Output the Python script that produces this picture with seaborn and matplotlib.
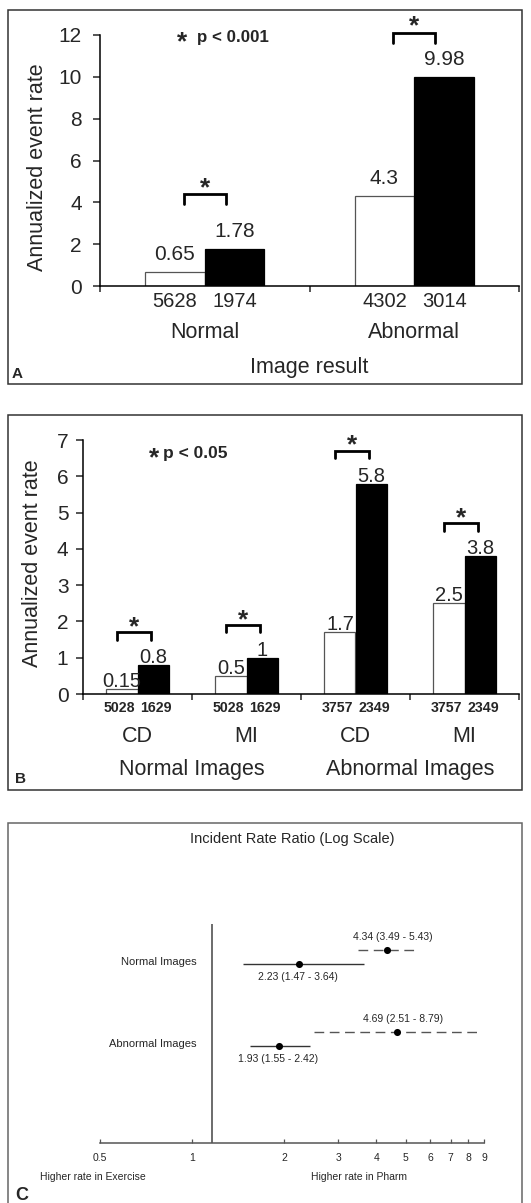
import numpy as np
import pandas as pd
import matplotlib
matplotlib.use('Agg')
import matplotlib.pyplot as plt
import seaborn as sns
from matplotlib.patches import Rectangle
from matplotlib.ticker import NullLocator, FixedLocator, FixedFormatter
import matplotlib.transforms as mtransforms

# ---------------- data ----------------
stress_levels = ['Exercise', 'Pharm']

groups_a = ['Normal', 'Abnormal']
rate_a_exercise = [0.65, 4.3]
rate_a_pharm = [1.78, 9.98]
n_a_exercise = [5628, 4302]
n_a_pharm = [1974, 3014]

cats_b = ['Normal CD', 'Normal MI', 'Abnormal CD', 'Abnormal MI']
cat_labels_b = ['CD', 'MI', 'CD', 'MI']
groups_b = ['Normal Images', 'Abnormal Images']
rate_b_exercise = [0.15, 0.5, 1.7, 2.5]
rate_b_pharm = [0.8, 1, 5.8, 3.8]
n_b_exercise = [5028, 5028, 3757, 3757]
n_b_pharm = [1629, 1629, 2349, 2349]

rows_c = ['Normal Images', 'Abnormal Images']
irr_dashed = [4.34, 4.69]
lo_dashed = [3.49, 2.51]
hi_dashed = [5.43, 8.79]
irr_solid = [2.23, 1.93]
lo_solid = [1.47, 1.55]
hi_solid = [3.64, 2.42]
xticks_c = [0.5, 1, 2, 3, 4, 5, 6, 7, 8, 9]
xticklabels_c = ['0.5', '1', '2', '3', '4', '5', '6', '7', '8', '9']
ref_line_c = 1.16

# ---------------- style ----------------
sns.set_theme(style='white')
plt.rcParams['font.family'] = ['Liberation Sans', 'DejaVu Sans']
plt.rcParams['axes.linewidth'] = 1.1
plt.rcParams['axes.edgecolor'] = 'black'

W, H = 531, 1203
fig = plt.figure(figsize=(W / 100, H / 100), dpi=100)
PT = 0.72  # points per pixel
STAR_FS = 19
STAR_C = 0.45  # asterisk ink centre above baseline, in em


def ax_rect(l, t, r, b):
    return [l / W, 1 - b / H, (r - l) / W, (b - t) / H]


def fx(x):
    return x / W


def fy(y):
    return 1 - y / H


palette = {'Exercise': 'white', 'Pharm': 'black'}


def bar_panel(ax, cats, ex, ph, n_ex, n_ph, ymax, val_off, n_off, n_size, n_weight,
              n_dx, br_heights, br_leg, br_span, star_gap, cat_labels, cat_off, fs):
    df = pd.DataFrame({
        'cat': list(cats) * 2,
        'stress': ['Exercise'] * len(cats) + ['Pharm'] * len(cats),
        'rate': list(ex) + list(ph),
    })
    sns.barplot(data=df, x='cat', y='rate', hue='stress', order=cats,
                hue_order=stress_levels, palette=palette, width=0.57, gap=0,
                saturation=1, errorbar=None, legend=False, ax=ax)
    for bar in ax.containers[0]:
        bar.set_edgecolor('#555555')
        bar.set_linewidth(0.9)
    for bar in ax.containers[1]:
        bar.set_edgecolor('black')
        bar.set_linewidth(0.9)
    ncat = len(cats)
    ax.set_xlim(-0.5, ncat - 0.5)
    ax.set_ylim(0, ymax)
    ax.set_xlabel('')
    ax.set_ylabel('')
    ax.set_xticks(np.arange(-0.5, ncat, 1.0))
    ax.set_xticklabels([''] * (ncat + 1))
    sns.despine(ax=ax)
    # value labels & n labels
    for cont, ns, dx in zip(ax.containers, (n_ex, n_ph), n_dx):
        for bar, n in zip(cont, ns):
            x = bar.get_x() + bar.get_width() / 2
            h = bar.get_height()
            ax.annotate(f"{h:g}", (x, h), xytext=(0, val_off * PT),
                        textcoords='offset points', ha='center', va='baseline',
                        fontsize=fs)
            ax.annotate(str(n), (x, 0), xytext=(dx * PT, -n_off * PT),
                        textcoords='offset points', ha='center', va='baseline',
                        fontsize=n_size, fontweight=n_weight, annotation_clip=False)
    # significance brackets
    for i, y in enumerate(br_heights):
        x0, x1 = i + br_span[0], i + br_span[1]
        ax.plot([x0, x0, x1, x1], [y - br_leg, y, y, y - br_leg], color='black',
                lw=2.0, clip_on=False, solid_joinstyle='miter')
        base = star_gap - STAR_C * STAR_FS / PT
        ax.annotate('*', ((x0 + x1) / 2, y), xytext=(0, base * PT),
                    textcoords='offset points', ha='center', va='baseline',
                    fontsize=STAR_FS, fontweight='bold', annotation_clip=False)
    # category labels
    for i, lab in enumerate(cat_labels):
        ax.annotate(lab, (i, 0), xytext=(0, -cat_off * PT), textcoords='offset points',
                    ha='center', va='baseline', fontsize=15.5, annotation_clip=False)


def fig_star(xc, yc, fs):
    fig.text(fx(xc), fy(yc + STAR_C * fs / PT), '*', ha='center', va='baseline',
             fontsize=fs, fontweight='bold')


# ---------------- Panel A ----------------
axA = fig.add_axes(ax_rect(100, 35, 519, 286))
bar_panel(axA, groups_a, rate_a_exercise, rate_a_pharm, n_a_exercise, n_a_pharm,
          12, 12, 21, 14.5, 'normal', (0, 0), [4.4, 12.1], 0.48, (-0.10, 0.10), 11,
          groups_a, 52, 15)
axA.set_yticks(np.arange(0, 13, 2))
axA.tick_params(axis='y', direction='out', length=5, width=1.1, labelsize=15, pad=8,
                left=True)
axA.tick_params(axis='x', direction='out', length=4.3, width=1.1, bottom=True)
fig.text(fx(38), fy(167.5), 'Annualized event rate', rotation=90, ha='center',
         va='center', fontsize=15.5)
fig.text(fx(309), fy(373), 'Image result', ha='center', va='baseline', fontsize=15.5)
fig_star(182, 37.5, 19)
fig.text(fx(197), fy(42), 'p < 0.001', ha='left', va='baseline', fontsize=12.2,
         fontweight='bold')
fig.text(fx(12), fy(378), 'A', ha='left', va='baseline', fontsize=11, fontweight='bold')
fig.add_artist(Rectangle((fx(8), fy(384)), (522 - 8) / W, (384 - 10) / H,
                         transform=fig.transFigure, fill=False, ec='#333333', lw=1.1))

# ---------------- Panel B ----------------
axB = fig.add_axes(ax_rect(83, 440, 519, 694))
br_b = [max(a, b) + 0.9 for a, b in zip(rate_b_exercise, rate_b_pharm)]
bar_panel(axB, cats_b, rate_b_exercise, rate_b_pharm, n_b_exercise, n_b_pharm,
          7, 2, 18, 10.2, 'bold', (-3, 3), br_b, 0.2, (-0.19, 0.12), 10,
          cat_labels_b, 48, 14.5)
axB.set_yticks(np.arange(0, 8, 1))
axB.tick_params(axis='y', direction='out', length=5, width=1.1, labelsize=15, pad=5.5,
                left=True)
axB.tick_params(axis='x', direction='out', length=4.3, width=1.1, bottom=True)
for j, g in enumerate(groups_b):
    axB.annotate(g, (2 * j + 0.5, 0), xytext=(0, -81 * PT), textcoords='offset points',
                 ha='center', va='baseline', fontsize=15.5, annotation_clip=False)
fig.text(fx(33), fy(563), 'Annualized event rate', rotation=90, ha='center',
         va='center', fontsize=15.5)
fig_star(154, 453, 19)
fig.text(fx(163), fy(458), 'p < 0.05', ha='left', va='baseline', fontsize=12.5,
         fontweight='bold')
fig.text(fx(15), fy(783), 'B', ha='left', va='baseline', fontsize=11, fontweight='bold')
fig.add_artist(Rectangle((fx(8), fy(790)), (522 - 8) / W, (790 - 415) / H,
                         transform=fig.transFigure, fill=False, ec='#333333', lw=1.1))

# ---------------- Panel C ----------------
axC = fig.add_axes(ax_rect(100, 924, 484, 1143))
row_y = {'Normal Images': 1.0, 'Abnormal Images': 0.0}
off_dashed, off_solid = 0.15, -0.02
pts = pd.DataFrame({
    'irr': irr_dashed + irr_solid,
    'y': [row_y[r] + off_dashed for r in rows_c] + [row_y[r] + off_solid for r in rows_c],
})
for r, lo, hi in zip(rows_c, lo_dashed, hi_dashed):
    axC.hlines(row_y[r] + off_dashed, lo, hi, colors='#555555', lw=1.0,
               linestyles=[(0, (7, 4))])
for r, lo, hi in zip(rows_c, lo_solid, hi_solid):
    axC.hlines(row_y[r] + off_solid, lo, hi, colors='#333333', lw=1.0)
sns.scatterplot(data=pts, x='irr', y='y', color='black', s=26, linewidth=0, ax=axC,
                zorder=3)
axC.axvline(ref_line_c, color='#444444', lw=1.1)
axC.set_xscale('log')
axC.set_xlim(0.5, 9)
axC.set_ylim(-1.207, 1.463)
axC.xaxis.set_major_locator(FixedLocator(xticks_c))
axC.xaxis.set_major_formatter(FixedFormatter(xticklabels_c))
axC.xaxis.set_minor_locator(NullLocator())
axC.set_yticks([])
axC.set_xlabel('')
axC.set_ylabel('')
for s in ['top', 'right', 'left']:
    axC.spines[s].set_visible(False)
axC.spines['bottom'].set_color('#555555')
axC.spines['bottom'].set_linewidth(1.1)
axC.tick_params(axis='x', direction='in', length=3, width=0.9, color='#555555',
                labelsize=7.5, pad=7, bottom=True)
lab_tr = mtransforms.blended_transform_factory(axC.transAxes, axC.transData)
for r in rows_c:
    axC.text(0.2526, row_y[r], r, transform=lab_tr, ha='right', va='center', fontsize=8)
for r, v, lo, hi in zip(rows_c, irr_dashed, lo_dashed, hi_dashed):
    axC.annotate(f"{v:.2f} ({lo:.2f} - {hi:.2f})", (v, row_y[r] + off_dashed),
                 xytext=(6 * PT, 13 * PT), textcoords='offset points', ha='center',
                 va='center', fontsize=7.5)
for r, v, lo, hi in zip(rows_c, irr_solid, lo_solid, hi_solid):
    axC.annotate(f"{v:.2f} ({lo:.2f} - {hi:.2f})", (v, row_y[r] + off_solid),
                 xytext=(-1 * PT, -13 * PT), textcoords='offset points', ha='center',
                 va='center', fontsize=7.5)
fig.text(fx(292), fy(839), 'Incident Rate Ratio (Log Scale)', ha='center', va='center',
         fontsize=10.5)
fig.text(fx(93), fy(1177), 'Higher rate in Exercise', ha='center', va='center',
         fontsize=7.5)
fig.text(fx(359), fy(1177), 'Higher rate in Pharm', ha='center', va='center',
         fontsize=7.5)
fig.text(fx(15), fy(1200), 'C', ha='left', va='baseline', fontsize=13, fontweight='bold')
fig.add_artist(Rectangle((fx(8), fy(1215)), (522 - 8) / W, (1215 - 823) / H,
                         transform=fig.transFigure, fill=False, ec='#666666', lw=1.1))

fig.savefig('out.png', dpi=100)
